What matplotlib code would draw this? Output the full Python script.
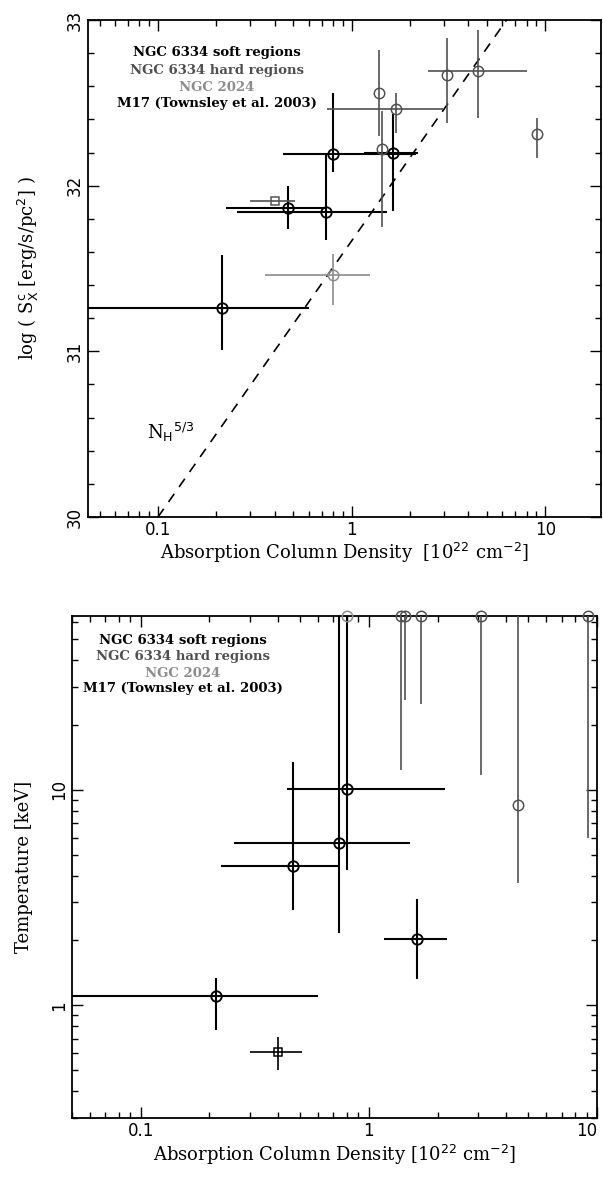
import matplotlib
matplotlib.use("Agg")
import matplotlib.pyplot as plt
import numpy as np
from matplotlib.ticker import LogLocator, FixedLocator, MultipleLocator, NullFormatter, FixedFormatter

# --- NGC 6334 soft regions (black)
soft_nh = np.array([0.213, 0.467, 0.74, 0.80, 1.63])
soft_nh_lo = np.array([0.03, 0.225, 0.256, 0.44, 1.16])
soft_nh_hi = np.array([0.60, 0.73, 1.52, 2.15, 2.2])
soft_sx = np.array([31.26, 31.865, 31.84, 32.19, 32.20])
soft_sx_lo = np.array([31.01, 31.74, 31.67, 32.08, 31.85])
soft_sx_hi = np.array([31.58, 32.00, 32.19, 32.56, 32.43])
soft_kt = np.array([1.1, 4.43, 5.67, 10.1, 2.03])
soft_kt_lo = np.array([0.77, 2.77, 2.16, 4.24, 1.32])
soft_kt_hi = np.array([1.34, 13.4, 100.0, 100.0, 3.1])

# --- NGC 6334 hard regions (dark grey)
hard_nh = np.array([1.38, 1.44, 1.70, 3.1, 4.5, 9.1])
hard_nh_lo = np.array([1.38, 1.44, 0.75, 3.1, 2.47, 9.1])
hard_nh_hi = np.array([1.38, 1.44, 2.95, 3.1, 8.0, 9.1])
hard_sx = np.array([32.56, 32.22, 32.46, 32.67, 32.69, 32.31])
hard_sx_lo = np.array([32.30, 31.75, 32.32, 32.38, 32.41, 32.17])
hard_sx_hi = np.array([32.82, 32.45, 32.56, 32.89, 32.94, 32.41])
hard_kt = np.array([64, 64, 64, 64, 8.5, 64])
hard_kt_lo = np.array([12.3, 26, 25, 11.7, 3.7, 6.0])
hard_kt_hi = np.array([64, 64, 64, 64, 100, 64])

# --- NGC 2024 (light grey)
n2024_nh = np.array([0.80])
n2024_nh_lo = np.array([0.355])
n2024_nh_hi = np.array([1.24])
n2024_sx = np.array([31.46])
n2024_sx_lo = np.array([31.28])
n2024_sx_hi = np.array([31.59])
n2024_kt = np.array([64])

# --- M17 (Townsley et al. 2003), square
m17_nh = np.array([0.40])
m17_nh_lo = np.array([0.30])
m17_nh_hi = np.array([0.51])
m17_sx = np.array([31.91])
m17_kt = np.array([0.605])
m17_kt_lo = np.array([0.50])
m17_kt_hi = np.array([0.71])

# N_H^(5/3) relation
line_nh = np.array([0.1, 10.0])
line_sx = 30 + 5.0 / 3.0 * np.log10(line_nh / 0.1)

legend_lines = ["NGC 6334 soft regions", "NGC 6334 hard regions", "NGC 2024",
                "M17 (Townsley et al. 2003)"]
legend_colors = ["black", "#505050", "#8c8c8c", "black"]

BLACK, DGREY, LGREY = "black", "#505050", "#8c8c8c"
SERIF = "DejaVu Serif"

fig = plt.figure(figsize=(6.03, 11.79), dpi=100)
ax1 = fig.add_axes([88 / 603, 1 - 517 / 1179, 513 / 603, 497 / 1179])
ax2 = fig.add_axes([72 / 603, 1 - 1118 / 1179, 525 / 603, 502 / 1179])


def err(v, lo, hi):
    return np.vstack([v - lo, hi - v])


def draw(ax, x, xlo, xhi, y, ylo, yhi, color, lw, marker="o", ms=7.5):
    ax.errorbar(x, y, xerr=err(x, xlo, xhi), yerr=err(y, ylo, yhi), fmt="none",
                ecolor=color, elinewidth=lw, capsize=0, zorder=3)
    ax.plot(x, y, linestyle="none", marker=marker, ms=ms, mfc="none", mec=color,
            mew=lw * 0.9, clip_on=False, zorder=4)


def style(ax):
    ax.set_xscale("log")
    ax.tick_params(which="both", direction="in", top=True, right=True, width=1.0)
    ax.tick_params(which="major", length=8, labelsize=12, pad=3)
    ax.tick_params(which="minor", length=4)
    ax.xaxis.set_major_locator(FixedLocator([0.1, 1, 10]))
    ax.xaxis.set_major_formatter(FixedFormatter(["0.1", "1", "10"]))
    ax.xaxis.set_minor_locator(LogLocator(base=10, subs=np.arange(2, 10), numticks=20))
    ax.xaxis.set_minor_formatter(NullFormatter())
    for s in ax.spines.values():
        s.set_linewidth(1.3)


def legend(ax, xf, yfs):
    for txt, c, yf in zip(legend_lines, legend_colors, yfs):
        ax.text(xf, yf, txt, transform=ax.transAxes, ha="center", va="center",
                fontsize=9.5, fontweight="bold", family=SERIF, color=c)


# ---------------- top panel
style(ax1)
ax1.set_xlim(0.0435, 19.4)
ax1.set_ylim(30, 33)
ax1.yaxis.set_major_locator(MultipleLocator(1))
ax1.yaxis.set_minor_locator(MultipleLocator(0.2))
ax1.plot(line_nh, line_sx, color="black", lw=1.2, ls=(0, (6, 5)), zorder=2)
draw(ax1, soft_nh, soft_nh_lo, soft_nh_hi, soft_sx, soft_sx_lo, soft_sx_hi, BLACK, 1.5)
draw(ax1, hard_nh, hard_nh_lo, hard_nh_hi, hard_sx, hard_sx_lo, hard_sx_hi, DGREY, 1.2)
draw(ax1, n2024_nh, n2024_nh_lo, n2024_nh_hi, n2024_sx, n2024_sx_lo, n2024_sx_hi, LGREY, 1.2)
draw(ax1, m17_nh, m17_nh_lo, m17_nh_hi, m17_sx, m17_sx, m17_sx, DGREY, 1.2, marker="s", ms=6)
ax1.text(0.088, 30.47, r"N$_\mathrm{H}$$^{5/3}$", family=SERIF, fontsize=13)
legend(ax1, 0.251, [0.934, 0.899, 0.865, 0.831])
ax1.set_xlabel(r"Absorption Column Density  [10$^{22}$ cm$^{-2}$]", family=SERIF,
               fontsize=13, labelpad=1)
ax1.set_ylabel(r"log ( S$_\mathrm{X}^\mathrm{c}$ [erg/s/pc$^2$] )", family=SERIF,
               fontsize=13, labelpad=18)
plt.setp(ax1.get_yticklabels(), rotation=90, va="center")

# ---------------- bottom panel
style(ax2)
ax2.set_yscale("log")
ax2.set_xlim(0.05, 10)
ax2.set_ylim(0.3, 64)
ax2.yaxis.set_major_locator(FixedLocator([1, 10]))
ax2.yaxis.set_major_formatter(FixedFormatter(["1", "10"]))
ax2.yaxis.set_minor_locator(LogLocator(base=10, subs=np.arange(2, 10), numticks=20))
ax2.yaxis.set_minor_formatter(NullFormatter())
draw(ax2, soft_nh, soft_nh_lo, soft_nh_hi, soft_kt, soft_kt_lo, soft_kt_hi, BLACK, 1.5)
draw(ax2, hard_nh, hard_nh, hard_nh, hard_kt, hard_kt_lo, hard_kt_hi, DGREY, 1.2)
draw(ax2, n2024_nh, n2024_nh, n2024_nh, n2024_kt, n2024_kt, n2024_kt, LGREY, 1.2)
draw(ax2, m17_nh, m17_nh_lo, m17_nh_hi, m17_kt, m17_kt_lo, m17_kt_hi, BLACK, 1.2, marker="s", ms=6)
legend(ax2, 0.211, [0.952, 0.920, 0.886, 0.856])
ax2.set_xlabel(r"Absorption Column Density [10$^{22}$ cm$^{-2}$]", family=SERIF,
               fontsize=13, labelpad=2)
ax2.set_ylabel("Temperature [keV]", family=SERIF, fontsize=13, labelpad=12)
plt.setp(ax2.get_yticklabels(), rotation=90, va="center")
# keep the "10" label inside the figure edge
ax2.get_xticklabels()[-1].set_horizontalalignment("right")

fig.savefig("out.png", dpi=100)
